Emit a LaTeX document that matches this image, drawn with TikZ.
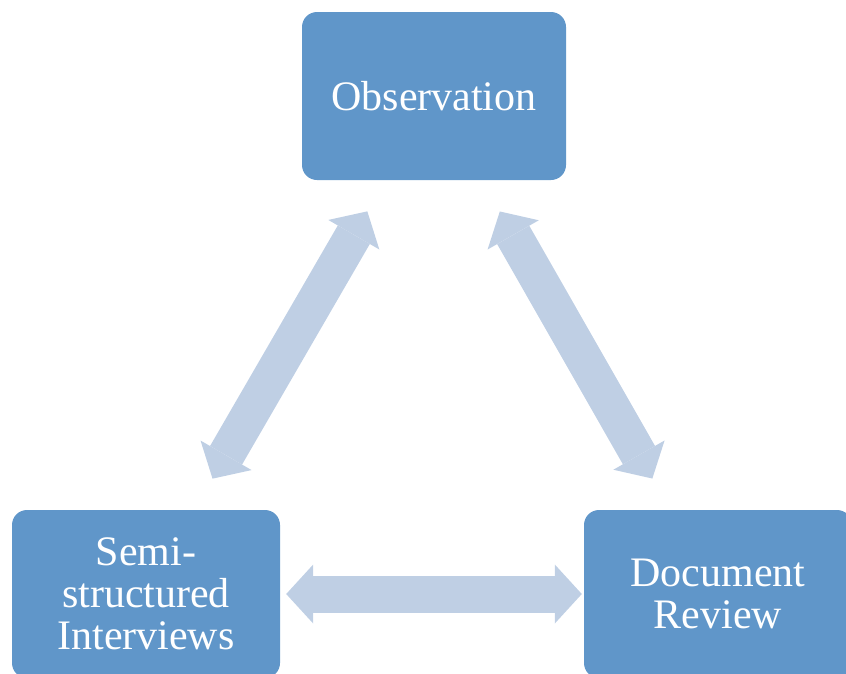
\documentclass[tikz,border=0pt]{standalone}
\usepackage{fontspec}
\setmainfont{Liberation Serif}
\usetikzlibrary{arrows.meta}
\definecolor{boxblue}{HTML}{6096C9}
\definecolor{arrowblue}{HTML}{BFCFE4}

\begin{document}
\begin{tikzpicture}[x=1pt,y=-1pt,
	box/.style={fill=boxblue,rounded corners=15pt,minimum width=268pt,minimum height=168pt,
		inner sep=0pt,align=center,text=white,font=\fontsize{42}{42}\selectfont},
	link/.style={arrowblue,line width=37pt,
		>={Triangle[length=27pt,width=59pt,line width=0pt]},<->}]
		\clip (0,0) rectangle (846,673);
		\node[box,minimum width=264pt] (obs) at (434,96) {Observation};
		\node[box] (semi) at (146,594) {Semi-\\structured\\Interviews};
		\node[box] (doc) at (718,594) {Document\\Review};
		%\draw (obs) -- (semi);
		\draw[link,shorten <=36pt,shorten >=36pt] (obs) -- (semi);
		\draw[link,shorten <=36pt,shorten >=36pt] (obs) -- (doc);
		\draw[link,shorten <=6pt,shorten >=2pt] (semi) -- (doc);
\end{tikzpicture}
\end{document}
